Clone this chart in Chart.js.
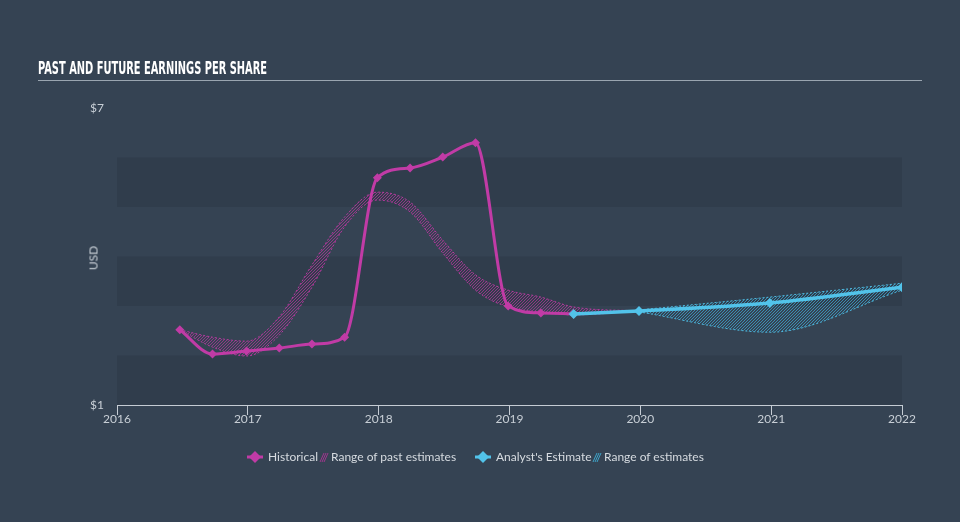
<!DOCTYPE html>
<html><head><meta charset="utf-8">
<script src="https://cdn.jsdelivr.net/npm/chart.js@4/dist/chart.umd.min.js"></script>
<style>
html,body{margin:0;padding:0;background:#354353;width:960px;height:522px;overflow:hidden}
#wrap{position:relative;width:960px;height:522px}
canvas{position:absolute;left:0;top:0}
#title{position:absolute;left:38px;top:58px;font:bold 17px "Liberation Sans Narrow","DejaVu Sans Condensed",sans-serif;color:#ffffff;transform-origin:0 0;white-space:nowrap;line-height:20px}
#rule{position:absolute;left:38px;top:80px;width:884px;height:1px;background:#9aa5b0}
#usd{position:absolute;left:93px;top:258px;transform:translate(-50%,-50%) rotate(-90deg);font:12px Lato,sans-serif;color:#c8cfd6}
.lg{position:absolute;top:449px;font:12px Lato,sans-serif;color:#d6dbe0;white-space:nowrap;line-height:16px}
.ic{position:absolute;top:450px}
</style>
</head><body>
<div id="wrap">
<canvas id="c" width="960" height="522"></canvas>
<div id="title">PAST AND FUTURE EARNINGS PER SHARE</div>
<div id="rule"></div>
<div id="usd">USD</div>
<svg class="ic" style="left:246px" width="18" height="14"><line x1="1" y1="7" x2="17" y2="7" stroke="#c13ba6" stroke-width="3"/><polygon points="9,1 15,7 9,13 3,7" fill="#c13ba6"/></svg>
<span class="lg" style="left:268px">Historical</span>
<svg class="ic" style="left:319px" width="10" height="14"><g stroke="#a0378e" stroke-width="1"><line x1="1" y1="12" x2="5" y2="3"/><line x1="3" y1="12" x2="7" y2="3"/><line x1="5" y1="12" x2="9" y2="3"/></g></svg>
<span class="lg" style="left:331px">Range of past estimates</span>
<svg class="ic" style="left:474px" width="18" height="14"><line x1="1" y1="7" x2="17" y2="7" stroke="#52c3ea" stroke-width="3"/><polygon points="9,1 15,7 9,13 3,7" fill="#52c3ea"/></svg>
<span class="lg" style="left:496px">Analyst's Estimate</span>
<svg class="ic" style="left:592px" width="10" height="14"><g stroke="#3fa3c8" stroke-width="1"><line x1="1" y1="12" x2="5" y2="3"/><line x1="3" y1="12" x2="7" y2="3"/><line x1="5" y1="12" x2="9" y2="3"/></g></svg>
<span class="lg" style="left:604px">Range of estimates</span>
</div>
<script>
// ---- data ----
const xTicks = [2016, 2017, 2018, 2019, 2020, 2021, 2022];
const yTicks = [1, 7];
const histDates  = [2016.48, 2016.73, 2016.99, 2017.24, 2017.49, 2017.74, 2017.99, 2018.24, 2018.49, 2018.74, 2018.99, 2019.24, 2019.49];
const histValues = [2.52, 2.03, 2.09, 2.15, 2.23, 2.37, 5.59, 5.79, 6.01, 6.30, 3.00, 2.86, 2.84];
const estDates   = [2019.49, 2019.99, 2020.99, 2022.0];
const estValues  = [2.84, 2.90, 3.06, 3.38];
const pastRangeDates = [2016.48, 2016.73, 2016.99, 2017.24, 2017.49, 2017.74, 2017.99, 2018.24, 2018.49, 2018.74, 2018.99, 2019.24, 2019.49, 2019.99];
const pastRangeHigh  = [2.52, 2.37, 2.29, 2.78, 3.83, 4.80, 5.30, 5.10, 4.33, 3.63, 3.32, 3.18, 2.98, 2.90];
const pastRangeLow   = [2.52, 2.17, 1.99, 2.41, 3.38, 4.60, 5.14, 4.90, 4.07, 3.32, 2.98, 2.88, 2.82, 2.90];
const futRangeDates = [2019.99, 2020.99, 2022.0];
const futRangeHigh  = [2.92, 3.18, 3.46];
const futRangeLow   = [2.88, 2.47, 3.32];

// ---- styles ----
const MAG = '#c13ba6', CYAN = '#52c3ea';
const darkBands = [[6,5],[4,3],[2,1]];

const title = document.getElementById('title');
title.style.transform = 'scaleX(' + (229 / title.offsetWidth) + ')';

function hatch(color){
  const n = 3;
  const c = document.createElement('canvas'); c.width = n; c.height = n;
  const g = c.getContext('2d'); g.strokeStyle = color; g.lineWidth = 1;
  g.beginPath();
  g.moveTo(0,n); g.lineTo(n,0);
  g.moveTo(-1,1); g.lineTo(1,-1);
  g.moveTo(n-1,n+1); g.lineTo(n+1,n-1);
  g.stroke();
  return g.createPattern(c, 'repeat');
}
const pts = (xs, ys) => xs.map((x,i)=>({x, y: ys[i]}));

const bandPlugin = {
  id: 'bands',
  beforeDatasetsDraw(chart){
    const {ctx, chartArea:a, scales:{y}} = chart;
    ctx.save(); ctx.fillStyle = '#303d4c';
    darkBands.forEach(([hi,lo])=>{
      const t = y.getPixelForValue(hi), b = y.getPixelForValue(lo);
      ctx.fillRect(a.left, t, a.right - a.left, b - t);
    });
    ctx.restore();
  }
};

const bandStyle = (col) => ({borderColor: col, borderWidth: 1, borderDash: [2,2], pointRadius: 0, cubicInterpolationMode: 'monotone'});

new Chart(document.getElementById('c'), {
  type: 'line',
  data: {
    datasets: [
      Object.assign({data: pts(pastRangeDates, pastRangeHigh), fill: '+1', backgroundColor: hatch('rgba(170,52,148,0.8)'), order: 3}, bandStyle('rgba(193,59,166,0.9)')),
      Object.assign({data: pts(pastRangeDates, pastRangeLow), fill: false, order: 3}, bandStyle('rgba(193,59,166,0.9)')),
      Object.assign({data: pts(futRangeDates, futRangeHigh), fill: '+1', backgroundColor: hatch('rgba(62,160,200,0.8)'), order: 2}, bandStyle('rgba(82,195,234,0.9)')),
      Object.assign({data: pts(futRangeDates, futRangeLow), fill: false, order: 2}, bandStyle('rgba(82,195,234,0.9)')),
      {data: pts(histDates, histValues), borderColor: MAG, backgroundColor: MAG, borderWidth: 3,
       pointStyle: 'rectRot', pointRadius: 4.5, pointBorderWidth: 0, cubicInterpolationMode: 'monotone', fill: false, order: 1},
      {data: pts(estDates, estValues), borderColor: CYAN, backgroundColor: CYAN, borderWidth: 3.5,
       pointStyle: 'rectRot', pointRadius: 5, pointBorderWidth: 0, cubicInterpolationMode: 'monotone', fill: false, order: 0}
    ]
  },
  options: {
    responsive: false, animation: false, devicePixelRatio: 1,
    layout: {padding: {left: 0, right: 58, top: 108, bottom: 87}},
    plugins: {legend: {display: false}, tooltip: {enabled: false}},
    scales: {
      x: {
        type: 'linear', min: xTicks[0], max: xTicks[xTicks.length-1],
        afterBuildTicks: s => { s.ticks = xTicks.map(v => ({value: v})); },
        afterFit: s => { s.height = 30; },
        grid: {drawOnChartArea: false, drawTicks: true, tickLength: 10, color: '#c5ccd4', lineWidth: 1},
        border: {display: true, color: '#c5ccd4', width: 1},
        ticks: {color: '#c8cfd6', font: {family: 'Lato', size: 12}, padding: -3, callback: v => String(v), maxRotation: 0}
      },
      y: {
        min: yTicks[0], max: yTicks[yTicks.length-1],
        afterBuildTicks: s => { s.ticks = yTicks.map(v => ({value: v})); },
        afterFit: s => { s.width = 117; },
        grid: {display: false, drawTicks: false},
        border: {display: false},
        ticks: {color: '#c8cfd6', font: {family: 'Lato', size: 12}, padding: 13, callback: v => '$' + v}
      }
    }
  },
  plugins: [bandPlugin]
});
</script>
</body></html>
